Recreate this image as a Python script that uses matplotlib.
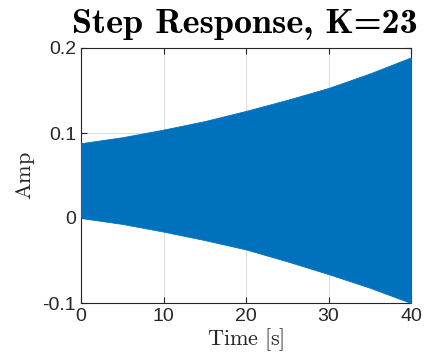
import numpy as np
import matplotlib.pyplot as plt

plt.rcParams['mathtext.fontset'] = 'cm'

# envelope of the oscillating response
t = [0, 5, 10, 15, 20, 25, 30, 35, 40]
upper = [0.088, 0.095, 0.104, 0.114, 0.126, 0.139, 0.153, 0.170, 0.189]
lower = [0.000, -0.007, -0.016, -0.026, -0.037, -0.051, -0.066, -0.082, -0.100]

xticks = [0, 10, 20, 30, 40]
yticks = [-0.1, 0, 0.1, 0.2]
ylabels = ['-0.1', '0', '0.1', '0.2']

fig = plt.figure(figsize=(4.29, 3.59), dpi=100)
ax = fig.add_axes([81/429, 1 - 303/359, 330/429, 255/359])

ax.fill_between(t, lower, upper, color='#0072BD', linewidth=0.6, edgecolor='#0072BD', zorder=3)

ax.set_xlim(0, 40)
ax.set_ylim(-0.1, 0.2)
ax.set_xticks(xticks)
ax.set_xticklabels([str(v) for v in xticks], family='Liberation Sans', fontsize=14)
ax.set_yticks(yticks)
ax.set_yticklabels(ylabels, family='Liberation Sans', fontsize=14)
ax.tick_params(direction='in', top=True, right=True, length=4, width=0.8, color='#262626', labelcolor='#262626')
ax.grid(True, color='#dcdcdc', linewidth=0.8, zorder=0)
ax.set_axisbelow(True)
for s in ax.spines.values():
    s.set_color('#262626')
    s.set_linewidth(0.8)

ax.set_xlabel(r'$\mathrm{Time\ [s]}$', fontsize=16, color='#262626', labelpad=1)
ax.set_ylabel(r'$\mathrm{Amp}$', fontsize=16, color='#262626', labelpad=4)
ax.text(0.495, 1.059, 'Step Response, K=23', transform=ax.transAxes, family='cmb10',
        fontsize=26, ha='center', va='baseline', color='black')

fig.savefig('out.png', dpi=100)
